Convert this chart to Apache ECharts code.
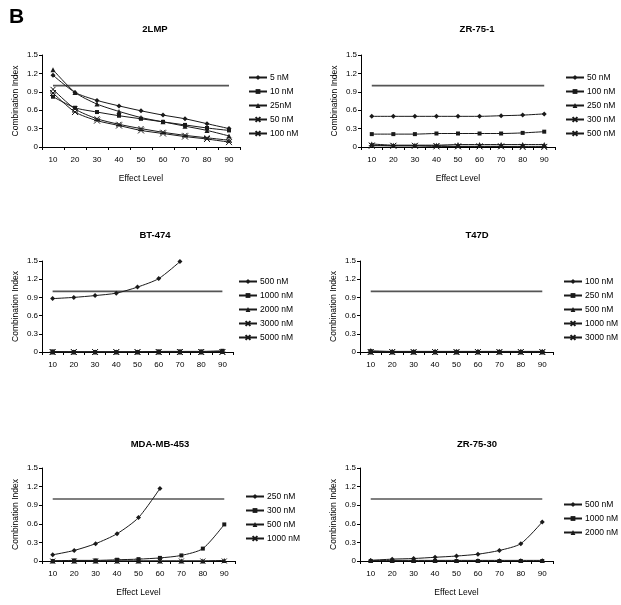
<!DOCTYPE html>
<html><head><meta charset="utf-8">
<script src="https://cdn.jsdelivr.net/npm/echarts@6/dist/echarts.min.js"></script>
<style>html,body{margin:0;padding:0;background:#fff}#c{width:621px;height:605px}</style>
</head><body><div id="c"></div>
<script>
const categories = ['10','20','30','40','50','60','70','80','90'];
const refLine = [1,1,1,1,1,1,1,1,1];
const yTicks = [0,0.3,0.6,0.9,1.2,1.5];

const panelTitles = ['2LMP','ZR-75-1','BT-474','T47D','MDA-MB-453','ZR-75-30'];

// 2LMP
const p1Names = ['5 nM','10 nM','25nM','50 nM','100 nM'];
const p1_5 = [1.17,0.89,0.76,0.67,0.59,0.52,0.46,0.38,0.30];
const p1_10 = [0.82,0.64,0.57,0.51,0.46,0.41,0.36,0.31,0.27];
const p1_25 = [1.26,0.89,0.70,0.58,0.48,0.41,0.34,0.27,0.18];
const p1_50 = [0.94,0.62,0.46,0.37,0.30,0.24,0.19,0.15,0.11];
const p1_100 = [0.88,0.57,0.43,0.35,0.27,0.22,0.17,0.13,0.08];

// ZR-75-1
const p2Names = ['50 nM','100 nM','250 nM','300 nM','500 nM'];
const p2_50 = [0.50,0.50,0.50,0.50,0.50,0.50,0.51,0.52,0.54];
const p2_100 = [0.21,0.21,0.21,0.22,0.22,0.22,0.22,0.23,0.25];
const p2_250 = [0.05,0.03,0.03,0.03,0.04,0.04,0.04,0.04,0.04];
const p2_300 = [0.03,0.02,0.02,0.02,0.01,0.01,0.01,0.01,0.01];
const p2_500 = [0.02,0.02,0.02,0.01,0.01,0.01,0.01,0.00,0.00];

// BT-474
const p3Names = ['500 nM','1000 nM','2000 nM','3000 nM','5000 nM'];
const p3_500 = [0.88,0.90,0.93,0.97,1.07,1.21,1.49,null,null];
const p3_1000 = [0.01,0.00,0.00,0.00,0.00,0.01,0.01,0.01,0.02];
const p3_2000 = [0.00,0.00,0.00,0.00,0.00,0.00,0.00,0.00,0.01];
const p3_3000 = [0.00,0.00,0.00,0.00,0.00,0.00,0.00,0.00,0.00];
const p3_5000 = [0.00,0.00,0.00,0.00,0.00,0.00,0.00,0.00,0.00];

// T47D
const p4Names = ['100 nM','250 nM','500 nM','1000 nM','3000 nM'];
const p4_100 = [0.02,0.01,0.01,0.01,0.01,0.01,0.01,0.01,0.01];
const p4_250 = [0.01,0.00,0.00,0.00,0.00,0.00,0.00,0.00,0.00];
const p4_500 = [0.00,0.00,0.00,0.00,0.00,0.00,0.00,0.00,0.00];
const p4_1000 = [0.00,0.00,0.00,0.00,0.00,0.00,0.00,0.00,0.00];
const p4_3000 = [0.00,0.00,0.00,0.00,0.00,0.00,0.00,0.00,0.00];

// MDA-MB-453
const p5Names = ['250 nM','300 nM','500 nM','1000 nM'];
const p5_250 = [0.10,0.17,0.28,0.44,0.70,1.17,null,null,null];
const p5_300 = [0.00,0.01,0.01,0.02,0.03,0.05,0.09,0.20,0.59];
const p5_500 = [0.00,0.00,0.00,0.00,0.00,0.00,0.00,0.00,0.01];
const p5_1000 = [0.00,0.00,0.00,0.00,0.00,0.00,0.00,0.00,0.00];

// ZR-75-30
const p6Names = ['500 nM','1000 nM','2000 nM'];
const p6_500 = [0.01,0.03,0.04,0.06,0.08,0.11,0.17,0.28,0.63];
const p6_1000 = [0.00,0.00,0.00,0.00,0.00,0.00,0.00,0.00,0.00];
const p6_2000 = [0.01,0.01,0.01,0.01,0.01,0.01,0.01,0.01,0.01];

const panelData = [
  [p1_5,p1_10,p1_25,p1_50,p1_100],
  [p2_50,p2_100,p2_250,p2_300,p2_500],
  [p3_500,p3_1000,p3_2000,p3_3000,p3_5000],
  [p4_100,p4_250,p4_500,p4_1000,p4_3000],
  [p5_250,p5_300,p5_500,p5_1000],
  [p6_500,p6_1000,p6_2000]
];
const panelNames = [p1Names,p2Names,p3Names,p4Names,p5Names,p6Names];

// layout
const grids = [
  {left:42, top:55, width:198, height:92},
  {left:361, top:55, width:194, height:92},
  {left:42, top:261, width:191, height:91},
  {left:360, top:261, width:193, height:91},
  {left:42, top:468, width:193, height:93},
  {left:360, top:468, width:193, height:93}
];
const titlePos = [[150,19],[472,19],[150,225],[472,225],[155,434],[472,434]];
const legendPos = [[243,68],[560,68],[233,272],[558,272],[240,487],[558,495]];
const showXName = [true,true,false,false,true,true];

const SYM = [
  'diamond',
  'rect',
  'triangle',
  'path://M0,0L10,10M10,0L0,10',
  'path://M0,0L10,10M10,0L0,10M0,5L10,5'
];
const SYMSIZE = [5,4,5,5,6];
const FONT = '"Liberation Sans", Arial, sans-serif';
const INK = '#1a1a1a';

const option = {
  backgroundColor:'#fff',
  animation:false,
  textStyle:{fontFamily:FONT},
  title:[{text:'B', left:4, top:2, textStyle:{fontSize:21, fontWeight:'bold', color:'#000', fontFamily:FONT}}],
  grid:[], xAxis:[], yAxis:[], legend:[], series:[]
};

for (let p=0;p<6;p++){
  option.title.push({
    text:panelTitles[p], left:titlePos[p][0], top:titlePos[p][1], textAlign:'center',
    textStyle:{fontSize:9.5, fontWeight:'bold', color:'#000', fontFamily:FONT}
  });
  option.grid.push(Object.assign({containLabel:false}, grids[p]));
  option.xAxis.push({
    type:'category', gridIndex:p, data:categories, boundaryGap:true,
    name: showXName[p] ? 'Effect Level' : '', nameLocation:'middle', nameGap:27,
    nameTextStyle:{fontSize:8.5, color:'#000', fontFamily:FONT},
    axisLine:{lineStyle:{color:'#000', width:1}},
    axisTick:{show:true, length:3, lineStyle:{color:'#000'}},
    axisLabel:{fontSize:8, color:'#000', margin:9, fontFamily:FONT},
    splitLine:{show:false}
  });
  option.yAxis.push({
    type:'value', gridIndex:p, min:0, max:1.5, interval:0.3,
    name:'Combination Index', nameLocation:'middle', nameGap:22,
    nameTextStyle:{fontSize:8.5, color:'#000', fontFamily:FONT},
    axisLine:{show:true, lineStyle:{color:'#000', width:1}},
    axisTick:{show:true, length:3, lineStyle:{color:'#000'}},
    axisLabel:{fontSize:8, color:'#000', margin:4, fontFamily:FONT,
      formatter:v => (v===0) ? '0' : v.toFixed(1)},
    splitLine:{show:false}
  });
  const legendNames = [];
  option.series.push({
    type:'line', name:'ref'+p, xAxisIndex:p, yAxisIndex:p, data:refLine,
    showSymbol:false, symbol:'none', silent:true,
    lineStyle:{color:'#555', width:1.6}, z:1
  });
  const names = panelNames[p];
  for (let s=0;s<names.length;s++){
    const nm = 'P'+p+'|'+names[s];
    legendNames.push(nm);
    option.series.push({
      type:'line', name:nm, xAxisIndex:p, yAxisIndex:p, data:panelData[p][s],
      smooth:0.25, symbol:SYM[s], symbolSize:SYMSIZE[s], showSymbol:true,
      connectNulls:false,
      lineStyle:{color:INK, width:1},
      itemStyle:{color:INK, borderColor:INK, borderWidth: s>=3 ? 1 : 0},
      z:2
    });
  }
  option.legend.push({
    orient:'vertical', left:legendPos[p][0], top:legendPos[p][1],
    data:legendNames, itemWidth:18, itemHeight:6, itemGap:5,
    formatter:n => n.split('|')[1],
    textStyle:{fontSize:8.5, color:'#000', fontFamily:FONT, padding:[0,0,0,-2]},
    selectedMode:false
  });
}

const chart = echarts.init(document.getElementById('c'), null, {renderer:'canvas'});
chart.setOption(option);
</script>
</body></html>
